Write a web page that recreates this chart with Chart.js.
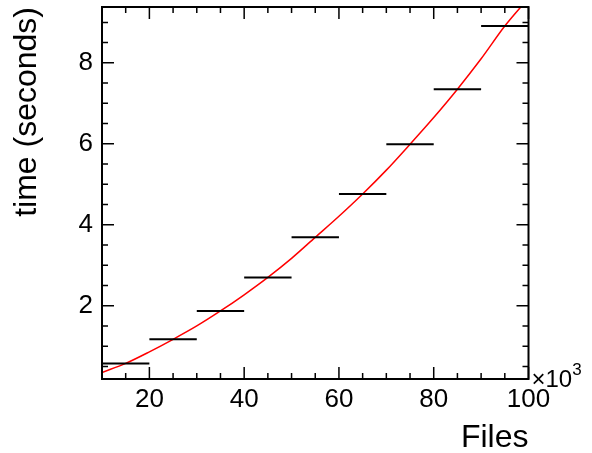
<!DOCTYPE html>
<html>
<head>
<meta charset="utf-8">
<script src="https://cdn.jsdelivr.net/npm/chart.js@4"></script>
<style>
  html, body { margin: 0; padding: 0; background: #fff; }
  #wrap { width: 592px; height: 453px; }
</style>
</head>
<body>
<div id="wrap"><canvas id="chart" width="592" height="453"></canvas></div>
<script>
// bins: lower edge in thousands of files, measured time per bin
const binLow = [10, 20, 30, 40, 50, 60, 70, 80, 90];
const binWidth = 10;
const binTime = [0.575, 1.17, 1.87, 2.70, 3.69, 4.76, 5.99, 7.35, 8.91];

// fit curve
const fitX = [10, 15, 20, 25, 30, 35, 40, 45, 50, 55, 60, 65, 70, 75, 80, 85, 90, 95, 100];
const fitY = [0.35, 0.575, 0.86, 1.17, 1.50, 1.87, 2.27, 2.70, 3.17, 3.69, 4.21, 4.76, 5.35, 5.99, 6.65, 7.35, 8.10, 8.91, 9.60];

// axis ticks
const xMajor = [20, 40, 60, 80, 100];
const xMinor = [15, 25, 30, 35, 45, 50, 55, 65, 70, 75, 85, 90, 95];
const yMajor = [2, 4, 6, 8];
const yMinor = [0.5, 1, 1.5, 2.5, 3, 3.5, 4.5, 5, 5.5, 6.5, 7, 7.5, 8.5, 9];

const FONT = '"Liberation Sans", Arial, Helvetica, sans-serif';

// each bin drawn as a flat segment, separated by gaps
const histPoints = [];
binLow.forEach((lo, i) => {
    histPoints.push({ x: lo, y: binTime[i] });
    histPoints.push({ x: lo + binWidth, y: binTime[i] });
    histPoints.push({ x: lo + binWidth, y: null });
});

const fitPoints = fitX.map((v, i) => ({ x: v, y: fitY[i] }));

// ROOT-like frame: box with inward ticks on all four sides
const frame = {
    id: 'frame',
    afterDraw(chart) {
        const { ctx, chartArea: a, scales: { x, y } } = chart;
        ctx.save();
        ctx.strokeStyle = '#000';
        ctx.lineWidth = 1.5;
        ctx.beginPath();
        const xt = (list, len) => list.forEach(v => {
            const px = x.getPixelForValue(v);
            ctx.moveTo(px, a.bottom); ctx.lineTo(px, a.bottom - len);
            ctx.moveTo(px, a.top); ctx.lineTo(px, a.top + len);
        });
        const yt = (list, len) => list.forEach(v => {
            const py = y.getPixelForValue(v);
            ctx.moveTo(a.left, py); ctx.lineTo(a.left + len, py);
            ctx.moveTo(a.right, py); ctx.lineTo(a.right - len, py);
        });
        xt(xMajor, 12); xt(xMinor, 6);
        yt(yMajor, 12); yt(yMinor, 6);
        ctx.stroke();
        ctx.lineWidth = 2;
        ctx.strokeRect(a.left, a.top, a.right - a.left, a.bottom - a.top);

        // x multiplier
        ctx.fillStyle = '#000';
        ctx.textBaseline = 'alphabetic';
        ctx.textAlign = 'left';
        ctx.font = '24px ' + FONT;
        ctx.fillText('×10', a.right + 3, a.bottom + 8);
        const w = ctx.measureText('×10').width;
        ctx.font = '17px ' + FONT;
        ctx.fillText('3', a.right + 3 + w, a.bottom - 4);
        ctx.restore();
    }
};

new Chart(document.getElementById('chart'), {
    type: 'line',
    data: {
        datasets: [
            {
                label: 'time',
                data: histPoints,
                borderColor: '#000',
                borderWidth: 2,
                pointRadius: 0,
                spanGaps: false,
                tension: 0
            },
            {
                label: 'fit',
                data: fitPoints,
                borderColor: '#ff0000',
                borderWidth: 1.5,
                pointRadius: 0,
                cubicInterpolationMode: 'monotone'
            }
        ]
    },
    options: {
        responsive: false,
        animation: false,
        layout: { padding: { top: 7, right: 63.5, left: 0, bottom: 0 } },
        plugins: {
            legend: { display: false },
            tooltip: { enabled: false }
        },
        scales: {
            x: {
                type: 'linear',
                min: 10,
                max: 100,
                grid: { display: false, drawTicks: false },
                border: { display: false },
                afterBuildTicks: s => { s.ticks = xMajor.map(v => ({ value: v })); },
                afterFit: s => { s.height = 74; s.paddingLeft = 0; s.paddingRight = 0; },
                ticks: {
                    color: '#000',
                    padding: 5,
                    maxRotation: 0,
                    autoSkip: false,
                    font: { family: FONT, size: 26 }
                },
                title: {
                    display: true,
                    text: 'Files',
                    align: 'end',
                    color: '#000',
                    padding: { top: 0, bottom: -1 },
                    font: { family: FONT, size: 32, lineHeight: 1 }
                }
            },
            y: {
                min: 0.19,
                max: 9.38,
                grid: { display: false, drawTicks: false },
                border: { display: false },
                afterBuildTicks: s => { s.ticks = yMajor.map(v => ({ value: v })); },
                afterFit: s => { s.width = 102; s.paddingTop = 0; s.paddingBottom = 0; },
                ticks: {
                    color: '#000',
                    padding: 9,
                    font: { family: FONT, size: 26 }
                },
                title: {
                    display: true,
                    text: 'time (seconds)',
                    align: 'end',
                    color: '#000',
                    padding: { top: 11, bottom: 0 },
                    font: { family: FONT, size: 32, lineHeight: 1 }
                }
            }
        }
    },
    plugins: [frame]
});
</script>
</body>
</html>
